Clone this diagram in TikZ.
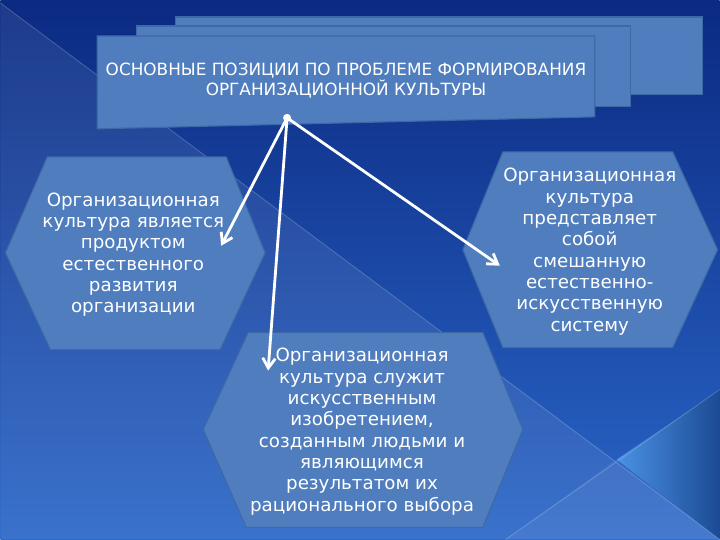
\documentclass[tikz,border=0pt]{standalone}
\usepackage{fontspec}
\setmainfont{DejaVu Sans}
\usetikzlibrary{arrows.meta}
\usetikzlibrary{calc}

\definecolor{bgtop}{HTML}{0B2A82}
\definecolor{bgbot}{HTML}{2A66C8}
\definecolor{glowin}{HTML}{4A92E4}
\definecolor{glowout}{HTML}{1C4A94}
\definecolor{boxfill}{HTML}{4F7DBE}
\definecolor{boxline}{HTML}{3D69A6}

\begin{document}
\begin{tikzpicture}[x=0.025cm,y=-0.025cm,
		plate/.style={fill=boxfill,draw=boxline,line width=0.8pt},
		hexa/.style={fill=boxfill,draw=boxline,line width=0.8pt},
		txt/.style={text=white,align=center,font=\fontsize{13}{15.2}\selectfont},
		link/.style={draw=white,line width=2pt,-{Straight Barb[length=7pt,width=9pt]}}]
		% background
		\shade[top color=bgtop,bottom color=bgbot] (0,0) rectangle (720,540);
		\fill[white,opacity=0.08] (0,3) -- (720,540) -- (0,540) -- cycle;
		\fill[white,opacity=0.06] (617,460) -- (720,540) -- (506,540) -- cycle;
		\shade[left color=glowin,right color=glowout] (617,460) -- (720,390) -- (720,540) -- cycle;
		\draw[white,opacity=0.2,line width=0.6pt] (0,3) -- (720,540) (720,390) -- (506,540);
		\useasboundingbox (0,0) rectangle (720,540);
		% title plates
		\draw[plate] (175,17) rectangle (703,95);
		\draw[plate] (136,26) rectangle (631,107);
		\draw[plate] (97,36) -- (595,36) -- (595,117) -- (97,129) -- cycle;
		\node (title) [txt,font=\fontsize{12}{14.2}\selectfont] at (346,81) {ОСНОВНЫЕ ПОЗИЦИИ ПО ПРОБЛЕМЕ ФОРМИРОВАНИЯ\\ОРГАНИЗАЦИОННОЙ КУЛЬТУРЫ};
		% hexagons
		\draw[hexa] (5,253) -- (47,157) -- (226,157) -- (265,253) -- (220,350) -- (50,350) -- cycle;
		\draw[hexa] (463,250) -- (503,152) -- (673,152) -- (718,250) -- (673,348) -- (503,348) -- cycle;
		\draw[hexa] (203,430) -- (248,333) -- (483,333) -- (523,430) -- (483,528) -- (246,528) -- cycle;
		\node (natural) [txt] at (133,255) {Организационная\\культура является\\продуктом\\естественного\\развития\\организации};
		\node (mixed) [txt] at (590,252) {Организационная\\культура\\представляет\\собой\\смешанную\\естественно-\\искусственную\\систему};
		\node (artificial) [txt] at (362,432) {Организационная\\культура служит\\искусственным\\изобретением,\\созданным людьми и\\являющимся\\результатом их\\рационального выбора};
		% arrows
		\coordinate (hub) at (287,118);
		\coordinate (tonatural) at (221,246);
		\coordinate (toartificial) at (268,371);
		\coordinate (tomixed) at (500,266);
		\draw [link] (hub) -- (tonatural);
		\draw [link] (hub) -- (toartificial);
		\draw [link] (hub) -- (tomixed);
		\fill[white] (hub) circle (4);
	\end{tikzpicture}
\end{document}
